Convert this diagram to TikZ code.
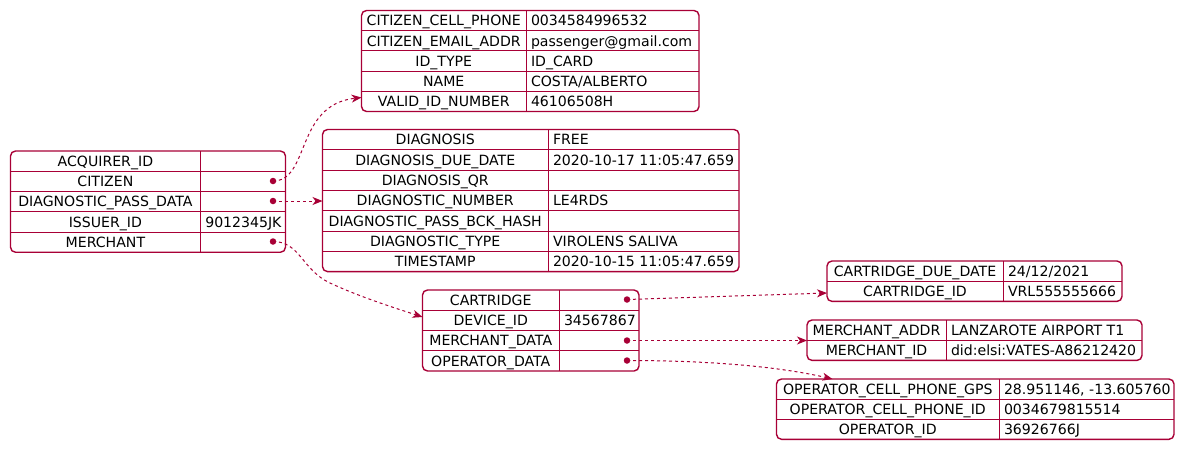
\documentclass[tikz,border=0pt]{standalone}
\usepackage{fontspec}
\setmainfont{DejaVu Sans}
\usetikzlibrary{arrows.meta,calc}
\definecolor{puml}{HTML}{A80036}
\newcount\jrowcount
\newcommand\jtab[7]{%
  \gdef\jname{#1}\gdef\jX{#2}\gdef\jY{#3}\gdef\jD{#4}\gdef\jE{#5}\gdef\jH{#7}\global\jrowcount=0
  \draw[tline] (#4,#3) -- (#4,{#3+#6*#7});
  \pgfmathtruncatemacro\jn{#6-1}
  \foreach \r in {1,...,\jn} {\draw[tline] (#2,{#3+\r*#7}) -- (#5,{#3+\r*#7});}
  \node[tframe, anchor=north west, minimum width={(#5-#2)*1pt}, minimum height={(#6*#7)*1pt}] (#1) at (#2,#3) {};
}
\newcommand\jr[2]{%
  \global\advance\jrowcount by 1
  \node[txt, anchor=base] (\jname-k\the\jrowcount) at ({(\jX+\jD)/2},{\jY+(\the\jrowcount-1)*\jH+15.3}) {#1};
  \node[txt, anchor=base west] (\jname-v\the\jrowcount) at ({\jD+5},{\jY+(\the\jrowcount-1)*\jH+15.3}) {#2};
}
\tikzset{
  tframe/.style={draw=puml, line width=1.4pt, rounded corners=5pt, inner sep=0pt, outer sep=0pt},
  tline/.style={draw=puml, line width=1pt},
  txt/.style={inner sep=0pt, outer sep=0pt, text=black, font=\fontsize{14.1}{17}\selectfont},
  dotn/.style={circle, fill=puml, inner sep=0pt, minimum size=6.5pt},
  link/.style={draw=puml, line width=1pt, dash pattern=on 3pt off 3pt, -{Stealth[length=10pt, width=8pt, inset=3pt]}},
}
\begin{document}
\begin{tikzpicture}[x=1pt, y=-1pt]
\useasboundingbox (0,0) rectangle (1185,450);
% root
\jtab{root}{10.5}{151}{200.3}{285.5}{5}{20.25}
\jr{ACQUIRER\_ID}{}
\jr{CITIZEN}{}
\jr{DIAGNOSTIC\_PASS\_DATA}{}
\jr{ISSUER\_ID}{9012345JK}
\jr{MERCHANT}{}
% citizen
\jtab{citizen}{361.5}{10.5}{526}{699}{5}{20.2}
\jr{CITIZEN\_CELL\_PHONE}{0034584996532}
\jr{CITIZEN\_EMAIL\_ADDR}{passenger@gmail.com}
\jr{ID\_TYPE}{ID\_CARD}
\jr{NAME}{COSTA/ALBERTO}
\jr{VALID\_ID\_NUMBER}{46106508H}
% diagnosis
\jtab{diag}{322.5}{129.5}{548}{739}{7}{20.3}
\jr{DIAGNOSIS}{FREE}
\jr{DIAGNOSIS\_DUE\_DATE}{2020-10-17 11:05:47.659}
\jr{DIAGNOSIS\_QR}{}
\jr{DIAGNOSTIC\_NUMBER}{LE4RDS}
\jr{DIAGNOSTIC\_PASS\_BCK\_HASH}{}
\jr{DIAGNOSTIC\_TYPE}{VIROLENS SALIVA}
\jr{TIMESTAMP}{2020-10-15 11:05:47.659}
% device
\jtab{device}{422.5}{290}{559}{639}{4}{20.25}
\jr{CARTRIDGE}{}
\jr{DEVICE\_ID}{34567867}
\jr{MERCHANT\_DATA}{}
\jr{OPERATOR\_DATA}{}
% cartridge
\jtab{cart}{827}{261}{1003}{1122}{2}{20.2}
\jr{CARTRIDGE\_DUE\_DATE}{24/12/2021}
\jr{CARTRIDGE\_ID}{VRL555555666}
% merchant
\jtab{merch}{807}{320}{946}{1142}{2}{20.2}
\jr{MERCHANT\_ADDR}{LANZAROTE AIRPORT T1}
\jr{MERCHANT\_ID}{did:elsi:VATES-A86212420}
% operator
\jtab{oper}{776.5}{379}{999}{1174}{3}{20.1}
\jr{OPERATOR\_CELL\_PHONE\_GPS}{28.951146, -13.605760}
\jr{OPERATOR\_CELL\_PHONE\_ID}{0034679815514}
\jr{OPERATOR\_ID}{36926766J}
% dots
\node[dotn] (dCitizen) at (273,181) {};
\node[dotn] (dDiag) at (273,201) {};
\node[dotn] (dMerchant) at (273,241.5) {};
\node[dotn] (dCart) at (627,299.5) {};
\node[dotn] (dMerchData) at (627,340.5) {};
\node[dotn] (dOper) at (627,360.5) {};
% links
\draw[link] (dCitizen.center) .. controls (310,181) and (295,105) .. ($(citizen.south west)+(0,-14)$);
\draw[link] (dDiag.center) -- (diag.west |- dDiag);
\draw[link] (dMerchant.center) .. controls (300,241.5) and (302,270) .. (330,283) .. controls (360,297) and (395,308) .. ($(device.north west)+(0,27)$);
\draw[link] (dCart.center) -- ($(cart.north west)+(0,32)$);
\draw[link] (dMerchData.center) -- (merch.west |- dMerchData);
\draw[link] (dOper.center) .. controls (720,360.5) and (785,368) .. ($(oper.north west)+(56,0)$);
\end{tikzpicture}
\end{document}
